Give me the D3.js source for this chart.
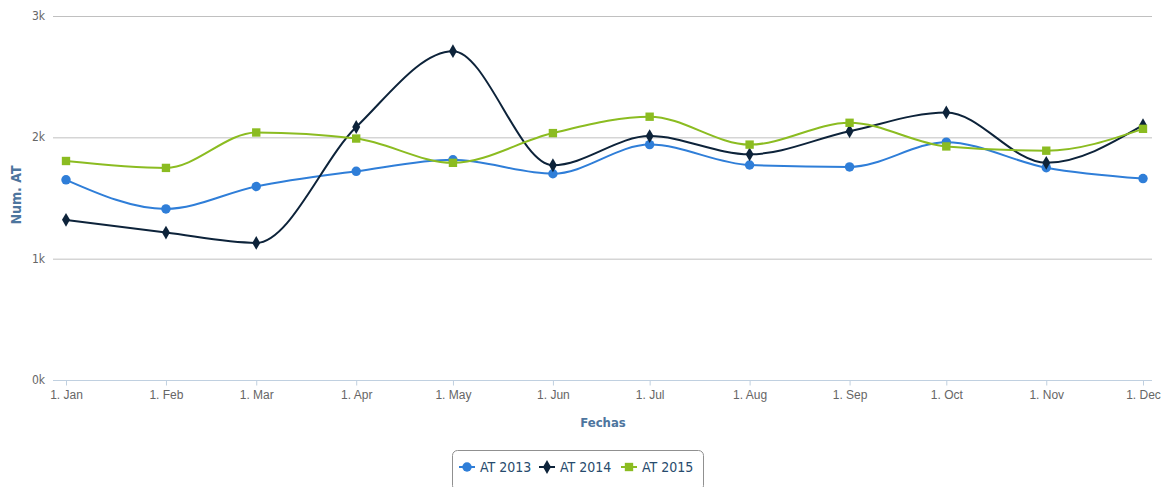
<!DOCTYPE html>
<html>
<head>
<meta charset="utf-8">
<script src="https://cdn.jsdelivr.net/npm/d3@7"></script>
<style>
  body { margin: 0; background: #fff; }
  svg { display: block; font-family: "Liberation Sans Narrow", "DejaVu Sans Condensed", "Liberation Sans", sans-serif; }
</style>
</head>
<body>
<div id="chart"></div>
<script>
"use strict";

const width = 1176;
const height = 487;

// datos
const months = ["2015-01-01", "2015-02-01", "2015-03-01", "2015-04-01", "2015-05-01", "2015-06-01",
  "2015-07-01", "2015-08-01", "2015-09-01", "2015-10-01", "2015-11-01", "2015-12-01"];
const at2013 = [1650, 1410, 1595, 1720, 1815, 1700, 1940, 1772, 1756, 1960, 1750, 1660];
const at2014 = [1320, 1215, 1130, 2085, 2710, 1770, 2010, 1860, 2050, 2205, 1790, 2100];
const at2015 = [1805, 1748, 2040, 1990, 1790, 2035, 2170, 1940, 2120, 1925, 1890, 2070];
const yTicks = [0, 1000, 2000, 3000];
const seriesNames = ["AT 2013", "AT 2014", "AT 2015"];
const seriesColors = ["#2f7ed8", "#0d233a", "#8bbc21"];
const seriesSymbols = [d3.symbolCircle, d3.symbolDiamond, d3.symbolSquare];
const seriesValues = [at2013, at2014, at2015];

const parse = d3.timeParse("%Y-%m-%d");
const dates = months.map(parse);

const svg = d3.select("#chart").append("svg")
  .attr("width", width)
  .attr("height", height);

const x = d3.scaleTime()
  .domain([dates[0], dates[dates.length - 1]])
  .range([66, 1143]);

const y = d3.scaleLinear()
  .domain([0, 3000])
  .range([380, 16]);

// lineas de rejilla
svg.append("g")
  .selectAll("line")
  .data(yTicks.slice(1))
  .enter()
  .append("line")
  .attr("x1", 53)
  .attr("x2", 1152)
  .attr("y1", d => y(d) + 0.5)
  .attr("y2", d => y(d) + 0.5)
  .attr("stroke", "#c0c0c0")
  .attr("stroke-width", 1);

// etiquetas eje y
svg.append("g")
  .selectAll("text")
  .data(yTicks)
  .enter()
  .append("text")
  .attr("x", 45)
  .attr("y", d => y(d) + 4)
  .attr("text-anchor", "end")
  .attr("fill", "#666")
  .attr("font-size", "12px")
  .text(d => (d / 1000) + "k");

// eje x
const xAxis = d3.axisBottom(x)
  .tickValues(dates)
  .tickSize(5)
  .tickFormat(d3.timeFormat("1. %b"));

const gx = svg.append("g")
  .attr("transform", "translate(0," + (y(0) + 0.5) + ")")
  .call(xAxis);
gx.select(".domain").remove();
gx.append("line")
  .attr("x1", 53)
  .attr("x2", 1152)
  .attr("stroke", "#c0d0e0")
  .attr("stroke-width", 1);
gx.selectAll(".tick line").attr("stroke", "#c0d0e0");
gx.selectAll(".tick text")
  .attr("fill", "#666")
  .attr("font-size", "12px")
  .attr("font-family", null)
  .attr("dy", "0.9em");

// titulos de ejes
svg.append("text")
  .attr("transform", "translate(21,195) rotate(-90)")
  .attr("text-anchor", "middle")
  .attr("fill", "#4d759e")
  .attr("font-weight", "bold")
  .attr("font-size", "14px")
  .text("Num. AT");

svg.append("text")
  .attr("x", 603)
  .attr("y", 427)
  .attr("text-anchor", "middle")
  .attr("fill", "#4d759e")
  .attr("font-weight", "bold")
  .attr("font-size", "13px")
  .text("Fechas");

// series
const line = d3.line()
  .x((d, i) => x(dates[i]))
  .y(d => y(d))
  .curve(d3.curveMonotoneX);

const symSize = [70, 55, 70];

seriesValues.forEach((vals, s) => {
  const g = svg.append("g");
  g.append("path")
    .datum(vals)
    .attr("d", line)
    .attr("fill", "none")
    .attr("stroke", seriesColors[s])
    .attr("stroke-width", 2);
  g.selectAll("path.marker")
    .data(vals)
    .enter()
    .append("path")
    .attr("class", "marker")
    .attr("transform", (d, i) => "translate(" + x(dates[i]) + "," + y(d) + ")")
    .attr("d", d3.symbol().type(seriesSymbols[s]).size(symSize[s]))
    .attr("fill", seriesColors[s]);
});

// leyenda
const legend = svg.append("g");
legend.append("rect")
  .attr("x", 452.5)
  .attr("y", 450.5)
  .attr("width", 251)
  .attr("height", 40)
  .attr("rx", 5)
  .attr("fill", "none")
  .attr("stroke", "#909090");

const itemX = [459, 539, 621];
seriesNames.forEach((name, s) => {
  const it = legend.append("g").attr("transform", "translate(" + itemX[s] + ",467)");
  it.append("line")
    .attr("x1", 0)
    .attr("x2", 16)
    .attr("stroke", seriesColors[s])
    .attr("stroke-width", 2);
  it.append("path")
    .attr("transform", "translate(8,0)")
    .attr("d", d3.symbol().type(seriesSymbols[s]).size(symSize[s]))
    .attr("fill", seriesColors[s]);
  it.append("text")
    .attr("x", 21)
    .attr("y", 5)
    .attr("fill", "#274b6d")
    .attr("font-size", "14px")
    .text(name);
});
</script>
</body>
</html>
